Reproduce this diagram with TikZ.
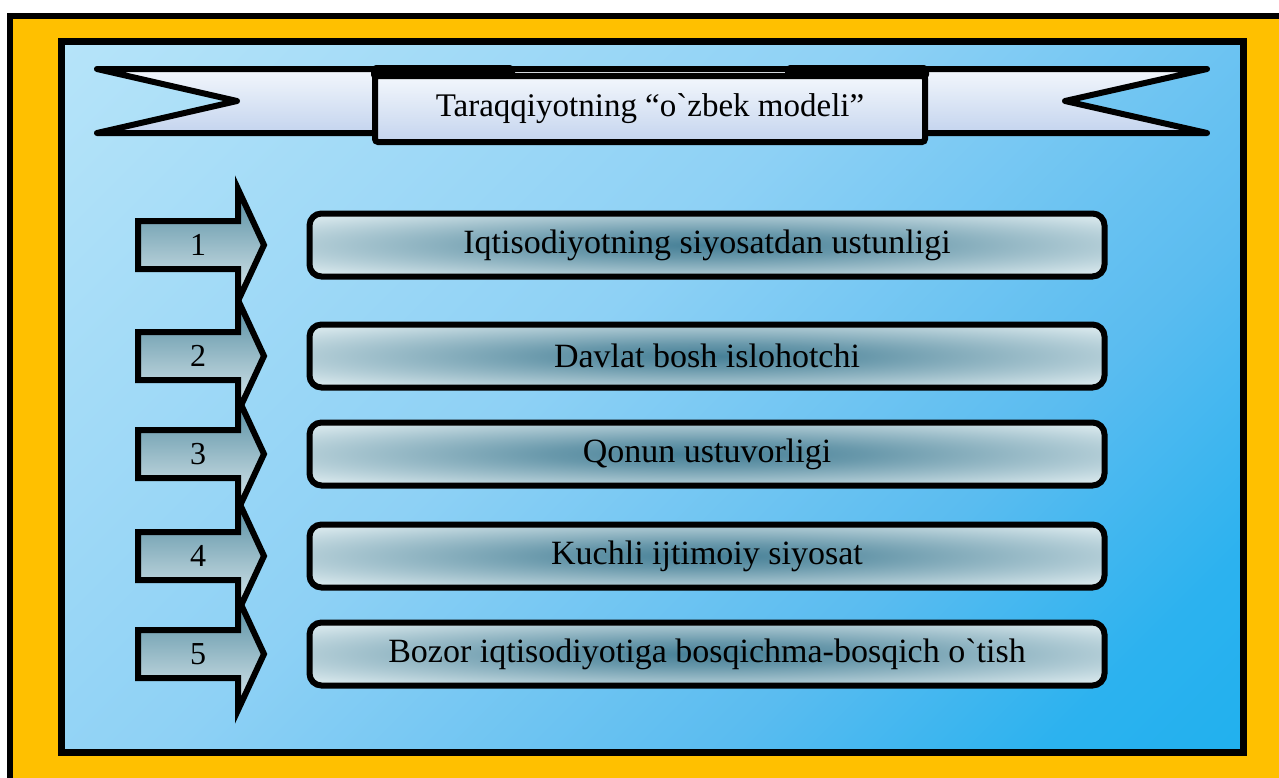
\documentclass[tikz,border=0pt]{standalone}
\usepackage{fontspec}
\setmainfont{Liberation Serif}
\definecolor{gold}{HTML}{FFC000}
\definecolor{skya}{HTML}{0BAEEC}
\definecolor{skyb}{HTML}{2CB2EF}
\definecolor{skyc}{HTML}{5ABCF0}
\definecolor{skyd}{HTML}{8ED1F5}
\definecolor{skye}{HTML}{C9EDFB}
\definecolor{ribbontop}{HTML}{F3F7FC}
\definecolor{ribbonbot}{HTML}{C4D4EE}
\definecolor{boxlight}{HTML}{D4E5EA}
\definecolor{glowdark}{HTML}{457F96}
\definecolor{arrowdark}{HTML}{5A91A5}
\definecolor{arrowlight}{HTML}{D6E5EA}
\pgfdeclareverticalshading{skyfade}{100bp}{color(0bp)=(skya); color(22bp)=(skyb); color(34bp)=(skyc); color(55bp)=(skyd); color(100bp)=(skye)}
\pgfdeclareradialshading{boxglow}{\pgfpoint{0bp}{0bp}}{color(0bp)=(glowdark); color(10bp)=(glowdark!75!boxlight); color(32bp)=(boxlight); color(50bp)=(boxlight)}
\pgfdeclareverticalshading{arrowfade}{100bp}{color(0bp)=(arrowlight); color(28bp)=(arrowlight); color(72bp)=(arrowdark); color(100bp)=(arrowdark)}
\tikzset{
  itembox/.style={draw, line width=6pt, rounded corners=12pt, shade, shading=boxglow,
    minimum width=795pt, minimum height=63pt, font=\fontsize{34}{40}\selectfont},
  numarrow/.style={draw, line width=6pt, line join=miter, shade, shading=arrowfade},
  numtext/.style={font=\fontsize{32}{38}\selectfont},
}
\begin{document}
\begin{tikzpicture}[x=1pt,y=-1pt]
  \useasboundingbox (0,0) rectangle (1279,777);
  \clip (0,0) rectangle (1279,777);
  % frames
  \path[draw,line width=6pt,fill=gold] (10,16) rectangle (1300,800);
  \path[draw,line width=7pt,shade,shading=skyfade,shading angle=45] (61,41) rectangle (1243,752);
  % ribbon
  \path[draw,line width=6pt,line join=round,top color=ribbontop,bottom color=ribbonbot]
    (97,69) -- (1207,69) -- (1065,101) -- (1207,133) -- (97,133) -- (237,101) -- cycle;
  \path[fill,rounded corners=5pt] (371,65) rectangle (515,80);
  \path[fill,rounded corners=5pt] (785,65) rectangle (929,80);
  \node[draw,line width=6pt,rounded corners=3pt,top color=ribbontop,bottom color=ribbonbot,
    minimum width=550pt,minimum height=66pt,font=\fontsize{33}{40}\selectfont]
    (title) at (650,109) {Taraqqiyotning “o\symbol{"02CB}zbek modeli”};
  % numbered rows
  \foreach \i/\y/\txt in {1/245/Iqtisodiyotning siyosatdan ustunligi,
                          2/356/Davlat bosh islohotchi,
                          3/454/Qonun ustuvorligi,
                          4/556/Kuchli ijtimoiy siyosat,
                          5/654/Bozor iqtisodiyotiga bosqichma-bosqich o\symbol{"02CB}tish} {
    \path[numarrow] (138,\y-24) -- (238,\y-24) -- (238,\y-56) -- (264,\y)
      -- (238,\y+56) -- (238,\y+24) -- (138,\y+24) -- cycle;
    \node[numtext] (num\i) at (198,\y) {\i};
    \node[itembox] (box\i) at (707,\y) {\txt};
  }
\end{tikzpicture}
\end{document}
